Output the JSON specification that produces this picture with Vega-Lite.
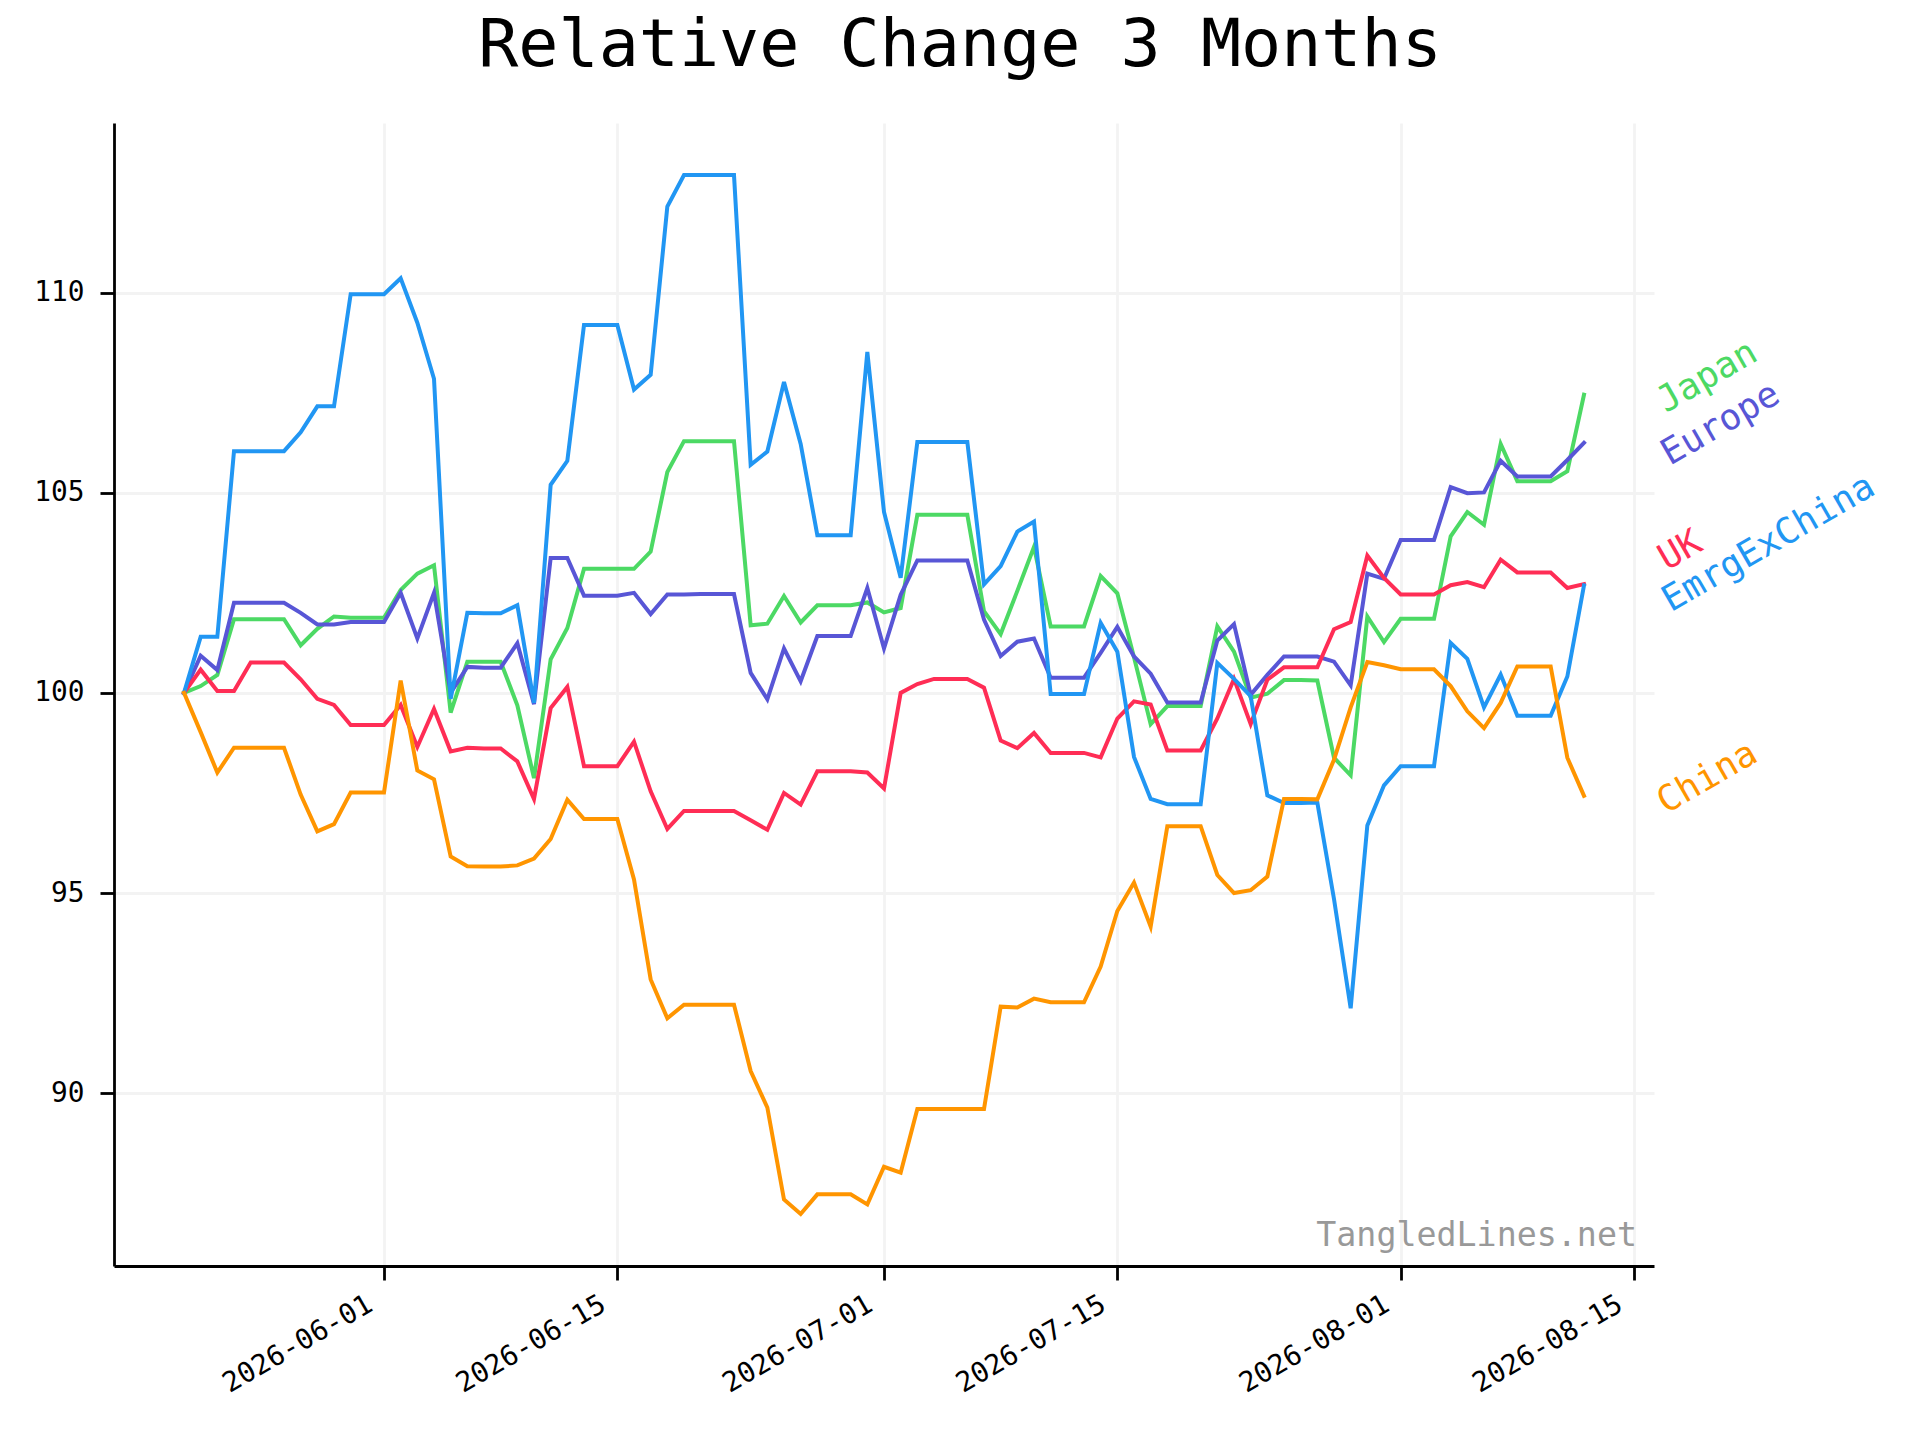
{
  "$schema": "https://vega.github.io/schema/vega-lite/v6.json",
  "width": 1540,
  "height": 1143,
  "autosize": {"type": "none"},
  "padding": {"left": 114, "top": 123, "right": 266, "bottom": 174},
  "background": "white",
  "title": {
    "text": "Relative Change 3 Months",
    "font": "DejaVu Sans Mono",
    "fontSize": 66.7,
    "fontWeight": "normal",
    "color": "black",
    "anchor": "middle",
    "frame": "group",
    "dx": 76,
    "dy": 66,
    "baseline": "bottom",
    "offset": 42
  },
  "data": {
    "values": [
      {"date": "2026-05-20", "Japan": 100, "Europe": 100, "UK": 100, "EmrgExChina": 100, "China": 100},
      {"date": "2026-05-21", "Japan": 100.17, "Europe": 100.93, "UK": 100.58, "EmrgExChina": 101.4, "China": 99.02},
      {"date": "2026-05-22", "Japan": 100.45, "Europe": 100.57, "UK": 100.05, "EmrgExChina": 101.4, "China": 98.01},
      {"date": "2026-05-23", "Japan": 101.84, "Europe": 102.25, "UK": 100.05, "EmrgExChina": 106.04, "China": 98.63},
      {"date": "2026-05-24", "Japan": 101.84, "Europe": 102.25, "UK": 100.76, "EmrgExChina": 106.04, "China": 98.63},
      {"date": "2026-05-25", "Japan": 101.84, "Europe": 102.25, "UK": 100.76, "EmrgExChina": 106.04, "China": 98.63},
      {"date": "2026-05-26", "Japan": 101.84, "Europe": 102.25, "UK": 100.76, "EmrgExChina": 106.04, "China": 98.63},
      {"date": "2026-05-27", "Japan": 101.19, "Europe": 102.0, "UK": 100.34, "EmrgExChina": 106.51, "China": 97.46},
      {"date": "2026-05-28", "Japan": 101.6, "Europe": 101.71, "UK": 99.85, "EmrgExChina": 107.16, "China": 96.54},
      {"date": "2026-05-29", "Japan": 101.91, "Europe": 101.71, "UK": 99.7, "EmrgExChina": 107.16, "China": 96.72},
      {"date": "2026-05-30", "Japan": 101.88, "Europe": 101.77, "UK": 99.2, "EmrgExChina": 109.96, "China": 97.51},
      {"date": "2026-05-31", "Japan": 101.88, "Europe": 101.77, "UK": 99.2, "EmrgExChina": 109.96, "China": 97.51},
      {"date": "2026-06-01", "Japan": 101.88, "Europe": 101.77, "UK": 99.2, "EmrgExChina": 109.96, "China": 97.51},
      {"date": "2026-06-02", "Japan": 102.57, "Europe": 102.5, "UK": 99.7, "EmrgExChina": 110.36, "China": 100.31},
      {"date": "2026-06-03", "Japan": 102.98, "Europe": 101.36, "UK": 98.65, "EmrgExChina": 109.25, "China": 98.06},
      {"date": "2026-06-04", "Japan": 103.19, "Europe": 102.5, "UK": 99.6, "EmrgExChina": 107.85, "China": 97.84},
      {"date": "2026-06-05", "Japan": 99.51, "Europe": 100.0, "UK": 98.54, "EmrgExChina": 99.85, "China": 95.91},
      {"date": "2026-06-06", "Japan": 100.78, "Europe": 100.65, "UK": 98.63, "EmrgExChina": 102.0, "China": 95.67},
      {"date": "2026-06-07", "Japan": 100.78, "Europe": 100.63, "UK": 98.61, "EmrgExChina": 101.99, "China": 95.66},
      {"date": "2026-06-08", "Japan": 100.78, "Europe": 100.63, "UK": 98.61, "EmrgExChina": 101.99, "China": 95.66},
      {"date": "2026-06-09", "Japan": 99.69, "Europe": 101.24, "UK": 98.29, "EmrgExChina": 102.19, "China": 95.69},
      {"date": "2026-06-10", "Japan": 97.87, "Europe": 99.72, "UK": 97.35, "EmrgExChina": 99.75, "China": 95.86},
      {"date": "2026-06-11", "Japan": 100.84, "Europe": 103.37, "UK": 99.62, "EmrgExChina": 105.2, "China": 96.35},
      {"date": "2026-06-12", "Japan": 101.62, "Europe": 103.37, "UK": 100.15, "EmrgExChina": 105.8, "China": 97.33},
      {"date": "2026-06-13", "Japan": 103.1, "Europe": 102.43, "UK": 98.17, "EmrgExChina": 109.19, "China": 96.85},
      {"date": "2026-06-14", "Japan": 103.1, "Europe": 102.43, "UK": 98.17, "EmrgExChina": 109.19, "China": 96.85},
      {"date": "2026-06-15", "Japan": 103.1, "Europe": 102.43, "UK": 98.17, "EmrgExChina": 109.19, "China": 96.85},
      {"date": "2026-06-16", "Japan": 103.1, "Europe": 102.5, "UK": 98.78, "EmrgExChina": 107.58, "China": 95.34},
      {"date": "2026-06-17", "Japan": 103.53, "Europe": 101.97, "UK": 97.54, "EmrgExChina": 107.95, "China": 92.84},
      {"date": "2026-06-18", "Japan": 105.52, "Europe": 102.46, "UK": 96.6, "EmrgExChina": 112.15, "China": 91.87},
      {"date": "2026-06-19", "Japan": 106.29, "Europe": 102.46, "UK": 97.05, "EmrgExChina": 112.94, "China": 92.21},
      {"date": "2026-06-20", "Japan": 106.29, "Europe": 102.47, "UK": 97.05, "EmrgExChina": 112.94, "China": 92.21},
      {"date": "2026-06-21", "Japan": 106.29, "Europe": 102.47, "UK": 97.05, "EmrgExChina": 112.94, "China": 92.21},
      {"date": "2026-06-22", "Japan": 106.29, "Europe": 102.47, "UK": 97.05, "EmrgExChina": 112.94, "China": 92.21},
      {"date": "2026-06-23", "Japan": 101.69, "Europe": 100.5, "UK": 96.82, "EmrgExChina": 105.7, "China": 90.55},
      {"date": "2026-06-24", "Japan": 101.73, "Europe": 99.84, "UK": 96.58, "EmrgExChina": 106.03, "China": 89.64},
      {"date": "2026-06-25", "Japan": 102.42, "Europe": 101.11, "UK": 97.5, "EmrgExChina": 107.77, "China": 87.34},
      {"date": "2026-06-26", "Japan": 101.76, "Europe": 100.29, "UK": 97.21, "EmrgExChina": 106.22, "China": 86.98},
      {"date": "2026-06-27", "Japan": 102.19, "Europe": 101.42, "UK": 98.04, "EmrgExChina": 103.94, "China": 87.47},
      {"date": "2026-06-28", "Japan": 102.19, "Europe": 101.42, "UK": 98.04, "EmrgExChina": 103.94, "China": 87.47},
      {"date": "2026-06-29", "Japan": 102.19, "Europe": 101.42, "UK": 98.04, "EmrgExChina": 103.94, "China": 87.47},
      {"date": "2026-06-30", "Japan": 102.26, "Europe": 102.62, "UK": 98.01, "EmrgExChina": 108.52, "China": 87.22},
      {"date": "2026-07-01", "Japan": 102.01, "Europe": 101.11, "UK": 97.61, "EmrgExChina": 104.52, "China": 88.16},
      {"date": "2026-07-02", "Japan": 102.12, "Europe": 102.45, "UK": 100.0, "EmrgExChina": 102.88, "China": 88.01},
      {"date": "2026-07-03", "Japan": 104.45, "Europe": 103.31, "UK": 100.22, "EmrgExChina": 106.27, "China": 89.6},
      {"date": "2026-07-04", "Japan": 104.45, "Europe": 103.31, "UK": 100.35, "EmrgExChina": 106.27, "China": 89.6},
      {"date": "2026-07-05", "Japan": 104.45, "Europe": 103.31, "UK": 100.35, "EmrgExChina": 106.27, "China": 89.6},
      {"date": "2026-07-06", "Japan": 104.45, "Europe": 103.31, "UK": 100.35, "EmrgExChina": 106.27, "China": 89.6},
      {"date": "2026-07-07", "Japan": 102.04, "Europe": 101.83, "UK": 100.13, "EmrgExChina": 102.71, "China": 89.6},
      {"date": "2026-07-08", "Japan": 101.47, "Europe": 100.92, "UK": 98.81, "EmrgExChina": 103.17, "China": 92.16},
      {"date": "2026-07-09", "Japan": 102.55, "Europe": 101.28, "UK": 98.62, "EmrgExChina": 104.03, "China": 92.14},
      {"date": "2026-07-10", "Japan": 103.65, "Europe": 101.36, "UK": 99.0, "EmrgExChina": 104.28, "China": 92.36},
      {"date": "2026-07-11", "Japan": 101.66, "Europe": 100.38, "UK": 98.5, "EmrgExChina": 99.97, "China": 92.27},
      {"date": "2026-07-12", "Japan": 101.66, "Europe": 100.38, "UK": 98.5, "EmrgExChina": 99.97, "China": 92.27},
      {"date": "2026-07-13", "Japan": 101.66, "Europe": 100.38, "UK": 98.5, "EmrgExChina": 99.97, "China": 92.27},
      {"date": "2026-07-14", "Japan": 102.92, "Europe": 101.0, "UK": 98.39, "EmrgExChina": 101.75, "China": 93.16},
      {"date": "2026-07-15", "Japan": 102.49, "Europe": 101.65, "UK": 99.36, "EmrgExChina": 101.03, "China": 94.55},
      {"date": "2026-07-16", "Japan": 100.89, "Europe": 100.91, "UK": 99.79, "EmrgExChina": 98.4, "China": 95.26},
      {"date": "2026-07-17", "Japan": 99.22, "Europe": 100.48, "UK": 99.71, "EmrgExChina": 97.35, "China": 94.16},
      {"date": "2026-07-18", "Japan": 99.67, "Europe": 99.76, "UK": 98.56, "EmrgExChina": 97.22, "China": 96.67},
      {"date": "2026-07-19", "Japan": 99.67, "Europe": 99.76, "UK": 98.56, "EmrgExChina": 97.22, "China": 96.67},
      {"date": "2026-07-20", "Japan": 99.67, "Europe": 99.76, "UK": 98.56, "EmrgExChina": 97.22, "China": 96.67},
      {"date": "2026-07-21", "Japan": 101.66, "Europe": 101.31, "UK": 99.36, "EmrgExChina": 100.75, "China": 95.45},
      {"date": "2026-07-22", "Japan": 101.03, "Europe": 101.72, "UK": 100.35, "EmrgExChina": 100.35, "China": 95.0},
      {"date": "2026-07-23", "Japan": 99.88, "Europe": 99.95, "UK": 99.22, "EmrgExChina": 99.92, "China": 95.07},
      {"date": "2026-07-24", "Japan": 99.98, "Europe": 100.45, "UK": 100.33, "EmrgExChina": 97.44, "China": 95.41},
      {"date": "2026-07-25", "Japan": 100.32, "Europe": 100.91, "UK": 100.64, "EmrgExChina": 97.25, "China": 97.35},
      {"date": "2026-07-26", "Japan": 100.32, "Europe": 100.91, "UK": 100.64, "EmrgExChina": 97.25, "China": 97.35},
      {"date": "2026-07-27", "Japan": 100.31, "Europe": 100.91, "UK": 100.64, "EmrgExChina": 97.26, "China": 97.34},
      {"date": "2026-07-28", "Japan": 98.38, "Europe": 100.78, "UK": 101.59, "EmrgExChina": 94.85, "China": 98.33},
      {"date": "2026-07-29", "Japan": 97.94, "Europe": 100.19, "UK": 101.77, "EmrgExChina": 92.12, "China": 99.64},
      {"date": "2026-07-30", "Japan": 101.91, "Europe": 102.98, "UK": 103.43, "EmrgExChina": 96.69, "China": 100.77},
      {"date": "2026-07-31", "Japan": 101.27, "Europe": 102.85, "UK": 102.87, "EmrgExChina": 97.69, "China": 100.69},
      {"date": "2026-08-01", "Japan": 101.85, "Europe": 103.82, "UK": 102.46, "EmrgExChina": 98.17, "China": 100.59},
      {"date": "2026-08-02", "Japan": 101.85, "Europe": 103.82, "UK": 102.46, "EmrgExChina": 98.17, "China": 100.59},
      {"date": "2026-08-03", "Japan": 101.85, "Europe": 103.82, "UK": 102.46, "EmrgExChina": 98.17, "China": 100.59},
      {"date": "2026-08-04", "Japan": 103.91, "Europe": 105.14, "UK": 102.69, "EmrgExChina": 101.25, "China": 100.17},
      {"date": "2026-08-05", "Japan": 104.52, "Europe": 104.99, "UK": 102.77, "EmrgExChina": 100.85, "China": 99.54},
      {"date": "2026-08-06", "Japan": 104.2, "Europe": 105.01, "UK": 102.64, "EmrgExChina": 99.64, "China": 99.12},
      {"date": "2026-08-07", "Japan": 106.22, "Europe": 105.8, "UK": 103.33, "EmrgExChina": 100.46, "China": 99.75},
      {"date": "2026-08-08", "Japan": 105.29, "Europe": 105.41, "UK": 103.01, "EmrgExChina": 99.43, "China": 100.66},
      {"date": "2026-08-09", "Japan": 105.29, "Europe": 105.41, "UK": 103.01, "EmrgExChina": 99.43, "China": 100.66},
      {"date": "2026-08-10", "Japan": 105.29, "Europe": 105.41, "UK": 103.01, "EmrgExChina": 99.43, "China": 100.66},
      {"date": "2026-08-11", "Japan": 105.54, "Europe": 105.82, "UK": 102.62, "EmrgExChina": 100.41, "China": 98.38},
      {"date": "2026-08-12", "Japan": 107.45, "Europe": 106.25, "UK": 102.72, "EmrgExChina": 102.69, "China": 97.43}
    ]
  },
  "transform": [
    {"fold": ["Japan", "Europe", "UK", "EmrgExChina", "China"], "as": ["series", "value"]}
  ],
  "layer": [
    {
      "mark": {"type": "line", "strokeWidth": 4, "strokeCap": "square"},
      "encoding": {
        "x": {
          "field": "date",
          "type": "temporal",
          "scale": {
            "type": "utc",
            "domain": [
              {"year": 2026, "month": 5, "date": 15, "hours": 19, "minutes": 12, "utc": true},
              {"year": 2026, "month": 8, "date": 16, "hours": 4, "minutes": 48, "utc": true}
            ]
          },
          "axis": {
            "title": null,
            "values": [
              {"year": 2026, "month": 6, "date": 1, "utc": true},
              {"year": 2026, "month": 6, "date": 15, "utc": true},
              {"year": 2026, "month": 7, "date": 1, "utc": true},
              {"year": 2026, "month": 7, "date": 15, "utc": true},
              {"year": 2026, "month": 8, "date": 1, "utc": true},
              {"year": 2026, "month": 8, "date": 15, "utc": true}
            ],
            "format": "%Y-%m-%d",
            "labelAngle": -30,
            "labelAlign": "right",
            "labelBaseline": "top",
            "labelFont": "DejaVu Sans Mono",
            "labelFontSize": 27.8,
            "labelColor": "black",
            "labelPadding": 10,
            "labelOffset": -21,
            "labelFlush": false,
            "labelOverlap": false,
            "labelBound": false,
            "tickSize": 14,
            "tickWidth": 2.8,
            "tickColor": "black",
            "domainColor": "black",
            "domainWidth": 2.8,
            "grid": true,
            "gridColor": "#f3f3f3",
            "gridWidth": 2.8
          }
        },
        "y": {
          "field": "value",
          "type": "quantitative",
          "scale": {"domain": [85.68, 114.24], "nice": false, "zero": false},
          "axis": {
            "title": null,
            "values": [90, 95, 100, 105, 110],
            "labelFont": "DejaVu Sans Mono",
            "labelFontSize": 27.8,
            "labelColor": "black",
            "labelPadding": 16,
            "tickSize": 14,
            "tickWidth": 2.8,
            "tickColor": "black",
            "domainColor": "black",
            "domainWidth": 2.8,
            "grid": true,
            "gridColor": "#f3f3f3",
            "gridWidth": 2.8
          }
        },
        "color": {
          "field": "series",
          "type": "nominal",
          "scale": {
            "domain": ["Japan", "Europe", "UK", "EmrgExChina", "China"],
            "range": ["#4cd964", "#5856d6", "#ff2d55", "#2196f3", "#ff9500"]
          },
          "legend": null
        }
      }
    },
    {
      "transform": [
        {"joinaggregate": [{"op": "max", "field": "date", "as": "lastdate"}]},
        {"filter": "time(datum.date) == time(datum.lastdate) && datum.series == 'Japan'"}
      ],
      "mark": {"type": "text", "x": "width", "angle": -30, "align": "left", "baseline": "alphabetic", "dx": 1, "dy": 22, "font": "DejaVu Sans Mono", "fontSize": 36, "color": "#4cd964"},
      "encoding": {"y": {"field": "value", "type": "quantitative"}, "text": {"field": "series"}}
    },
    {
      "transform": [
        {"joinaggregate": [{"op": "max", "field": "date", "as": "lastdate"}]},
        {"filter": "time(datum.date) == time(datum.lastdate) && datum.series == 'Europe'"}
      ],
      "mark": {"type": "text", "x": "width", "angle": -30, "align": "left", "baseline": "alphabetic", "dx": 2, "dy": 28, "font": "DejaVu Sans Mono", "fontSize": 36, "color": "#5856d6"},
      "encoding": {"y": {"field": "value", "type": "quantitative"}, "text": {"field": "series"}}
    },
    {
      "transform": [
        {"joinaggregate": [{"op": "max", "field": "date", "as": "lastdate"}]},
        {"filter": "time(datum.date) == time(datum.lastdate) && datum.series == 'UK'"}
      ],
      "mark": {"type": "text", "x": "width", "angle": -30, "align": "left", "baseline": "alphabetic", "dx": 18, "dy": -5, "font": "DejaVu Sans Mono", "fontSize": 36, "color": "#ff2d55"},
      "encoding": {"y": {"field": "value", "type": "quantitative"}, "text": {"field": "series"}}
    },
    {
      "transform": [
        {"joinaggregate": [{"op": "max", "field": "date", "as": "lastdate"}]},
        {"filter": "time(datum.date) == time(datum.lastdate) && datum.series == 'EmrgExChina'"}
      ],
      "mark": {"type": "text", "x": "width", "angle": -30, "align": "left", "baseline": "alphabetic", "dx": 1, "dy": 32, "font": "DejaVu Sans Mono", "fontSize": 36, "color": "#2196f3"},
      "encoding": {"y": {"field": "value", "type": "quantitative"}, "text": {"field": "series"}}
    },
    {
      "transform": [
        {"joinaggregate": [{"op": "max", "field": "date", "as": "lastdate"}]},
        {"filter": "time(datum.date) == time(datum.lastdate) && datum.series == 'China'"}
      ],
      "mark": {"type": "text", "x": "width", "angle": -30, "align": "left", "baseline": "alphabetic", "dx": 1, "dy": 22, "font": "DejaVu Sans Mono", "fontSize": 36, "color": "#ff9500"},
      "encoding": {"y": {"field": "value", "type": "quantitative"}, "text": {"field": "series"}}
    },
    {
      "data": {"values": [{"label": "TangledLines.net"}]},
      "mark": {"type": "text", "x": "width", "y": "height", "dx": -17, "dy": -20, "align": "right", "baseline": "alphabetic", "font": "DejaVu Sans Mono", "fontSize": 33.3, "color": "#999999"},
      "encoding": {"text": {"field": "label"}}
    }
  ],
  "config": {
    "view": {"stroke": null},
    "font": "DejaVu Sans Mono"
  }
}
